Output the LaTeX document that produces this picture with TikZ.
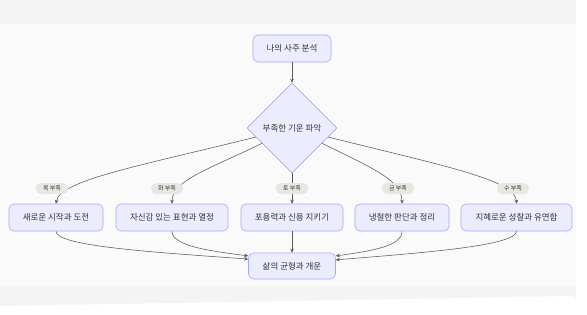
\documentclass[tikz,border=0pt]{standalone}
\usepackage{fontspec}
\setmainfont{Noto Sans CJK KR}
\usetikzlibrary{shapes.geometric,arrows.meta}
\definecolor{nodefill}{HTML}{ECECFF}
\definecolor{nodeline}{HTML}{A4A8F4}
\definecolor{edgecol}{HTML}{5A5A5A}
\definecolor{txt}{HTML}{333333}
\definecolor{lblbg}{HTML}{E8E8E2}
\definecolor{outerbg}{HTML}{F4F4F4}
\definecolor{innerbg}{HTML}{FAFAFA}
\begin{document}
\begin{tikzpicture}[x=1pt,y=-1pt,
  box/.style={draw=nodeline,fill=nodefill,rounded corners=5pt,line width=0.6pt,
    minimum height=27pt,inner sep=0pt,text=txt,font=\fontsize{8.5}{10}\selectfont},
  dia/.style={draw=nodeline,fill=nodefill,diamond,aspect=1,line width=0.6pt,
    minimum width=90pt,minimum height=90pt,inner sep=0pt,text=txt,font=\fontsize{8.5}{10}\selectfont},
  lbl/.style={fill=lblbg,rounded corners=5pt,minimum width=32pt,minimum height=11pt,
    inner sep=0pt,text=txt,font=\fontsize{6}{7}\selectfont},
  edge/.style={draw=edgecol,line width=0.55pt,-{Stealth[length=4pt,width=3.6pt]}}]
\useasboundingbox (0,0) rectangle (587,314);
\fill[white] (0,0) rectangle (587,314);
\fill[outerbg] (0,0) -- (571,0) arc[start angle=90,end angle=0,radius=5] -- (576,301) arc[start angle=0,end angle=-90,radius=5] -- (0,306) -- cycle;
\fill[innerbg] (0,24) rectangle (576,286);

\node[box,minimum width=78pt] (top) at (292,48.5) {나의 사주 분석};
\node[dia] (d) at (292,128) {부족한 기운 파악};
\node[box,minimum width=94pt] (b1) at (56,217.5) {새로운 시작과 도전};
\node[box,minimum width=112pt] (b2) at (172,217.5) {자신감 있는 표현과 열정};
\node[box,minimum width=102pt] (b3) at (292,217.5) {포용력과 신용 지키기};
\node[box,minimum width=94pt] (b4) at (402,217.5) {냉철한 판단과 정리};
\node[box,minimum width=111pt] (b5) at (516.5,217.5) {지혜로운 성찰과 유연함};
\node[box,minimum width=87pt,minimum height=26pt] (bot) at (292,266) {삶의 균형과 개운};

\draw[edge] (top) -- (d);
\draw[edge] (d.194) .. controls (140,166) and (60,180) .. (b1.north);
\draw[edge] (d.207) .. controls (212,168) and (172,180) .. (b2.north);
\draw[edge] (d.south) -- (b3.north);
\draw[edge] (d.333) .. controls (372,168) and (402,180) .. (b4.north);
\draw[edge] (d.346) .. controls (444,166) and (516,180) .. (b5.north);

\node[lbl] (l1) at (52,188.5) {목 부족};
\node[lbl] (l2) at (167,188.5) {화 부족};
\node[lbl] (l3) at (292,188.5) {토 부족};
\node[lbl] (l4) at (398,188.5) {금 부족};
\node[lbl] (l5) at (513,188.5) {수 부족};

\draw[edge] (b1.south) .. controls (56,246) and (150,252) .. (bot.171);
\draw[edge] (b2.south) .. controls (172,246) and (210,251) .. (bot.167);
\draw[edge] (b3.south) -- (bot.north);
\draw[edge] (b4.south) .. controls (402,246) and (372,251) .. (bot.13);
\draw[edge] (b5.south) .. controls (516,246) and (420,253) .. (bot.8);
\end{tikzpicture}
\end{document}
